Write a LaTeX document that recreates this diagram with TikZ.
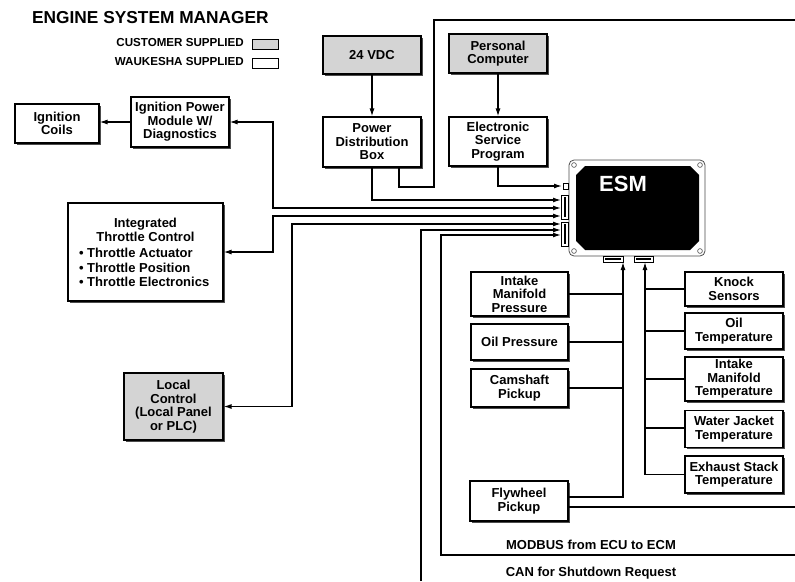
\documentclass[tikz,border=0pt]{standalone}
\usepackage{fontspec}
\setmainfont{Liberation Sans}
\usetikzlibrary{arrows.meta,shadows}
\newcommand\boxfont{\fontsize{13}{13.5}\selectfont\bfseries}
\newcommand\legfont{\fontsize{11.6}{12}\selectfont\bfseries}
\tikzset{
 box/.style={draw=black, line width=1.1pt, fill=white, align=center, inner sep=1pt, font=\boxfont,
   general shadow={fill=black!70, shadow xshift=1.6pt, shadow yshift=-1.6pt}},
 cbox/.style={box, fill=black!17},
 conn/.style={line width=1.3pt},
 arr/.style={conn, -{Latex[length=8pt,width=5pt]}},
 darr/.style={conn, {Latex[length=8pt,width=5pt]}-{Latex[length=8pt,width=5pt]}},
 plug/.style={draw=black, line width=0.6pt, fill=white},
}
\begin{document}
\begin{tikzpicture}[x=1pt,y=-1pt]
\useasboundingbox (0,0) rectangle (795,581);

% title and legend
\node[anchor=west, inner sep=0, font=\fontsize{17.3}{17}\selectfont\bfseries] (title) at (32,18) {ENGINE SYSTEM MANAGER};
\node[anchor=east, inner sep=0, font=\legfont] (cust) at (244,43) {CUSTOMER SUPPLIED};
\node[anchor=east, inner sep=0, font=\legfont] (wauk) at (244,62) {WAUKESHA SUPPLIED};
\node[draw, line width=0.8pt, fill=black!17, minimum width=26pt, minimum height=10pt, inner sep=0,
  general shadow={fill=black!50, shadow xshift=0.8pt, shadow yshift=-0.8pt}] (custbox) at (265,44) {};
\node[draw, line width=0.8pt, fill=white, minimum width=26pt, minimum height=10pt, inner sep=0,
  general shadow={fill=black!50, shadow xshift=0.8pt, shadow yshift=-0.8pt}] (waukbox) at (265,63) {};

% boxes
\node[box, minimum width=84pt, minimum height=39pt] (coils) at (57,123.5) {Ignition\\Coils};
\node[box, minimum width=98pt, minimum height=50pt] (ipm) at (180,122) {Ignition Power\\Module W/\\Diagnostics};
\node[box, minimum width=155pt, minimum height=98pt] (itc) at (145.5,252) {\begin{minipage}{133pt}\fontsize{13}{14.2}\selectfont\centering Integrated\\Throttle Control\par\vspace{2.5pt}\raggedright
\textbullet~Throttle Actuator\\\textbullet~Throttle Position\\\textbullet~Throttle Electronics\end{minipage}};
\node[cbox, minimum width=99pt, minimum height=67pt] (local) at (173.5,406.5) {Local\\Control\\(Local Panel\\or PLC)};
\node[cbox, minimum width=98pt, minimum height=38pt] (vdc) at (372,55) {24 VDC};
\node[cbox, minimum width=98pt, minimum height=39pt] (pc) at (498,53.5) {Personal\\Computer};
\node[box, minimum width=98pt, minimum height=50pt] (pdb) at (372,142) {Power\\Distribution\\Box};
\node[box, minimum width=98pt, minimum height=49pt] (esp) at (498,141.5) {Electronic\\Service\\Program};

\node[box, minimum width=97pt, minimum height=44pt] (imp) at (519.5,294) {Intake\\Manifold\\Pressure};
\node[box, minimum width=97pt, minimum height=36pt] (op) at (519.5,342) {Oil Pressure};
\node[box, minimum width=97pt, minimum height=38pt] (cam) at (519.5,388) {Camshaft\\Pickup};
\node[box, minimum width=98pt, minimum height=40pt] (fly) at (519,501) {Flywheel\\Pickup};

\node[box, minimum width=98pt, minimum height=34pt] (knock) at (734,289) {Knock\\Sensors};
\node[box, minimum width=98pt, minimum height=36pt] (ot) at (734,331) {Oil\\Temperature};
\node[box, minimum width=98pt, minimum height=44pt] (imt) at (734,379) {Intake\\Manifold\\Temperature};
\node[box, minimum width=98pt, minimum height=37pt] (wjt) at (734,429) {Water Jacket\\Temperature};
\node[box, minimum width=98pt, minimum height=37pt] (est) at (734,474.5) {Exhaust Stack\\Temperature};

% ESM unit
\node[draw=black!70, line width=0.8pt, fill=white, rounded corners=5pt, minimum width=136pt, minimum height=96pt, inner sep=0] (esm) at (637,208) {};
\fill[black] (585,166) -- (690,166) -- (699,175) -- (699,241) -- (690,250) -- (585,250) -- (576,241) -- (576,175) -- cycle;
\foreach \cx/\cy in {574/165, 700/165, 574/251, 700/251}
  \draw[black!70, line width=0.6pt, fill=white] (\cx,\cy) circle (2.4pt);
\node[text=white, inner sep=0, font=\fontsize{22}{22}\selectfont\bfseries] (esmlabel) at (623,184) {ESM};
% side plugs
\draw[plug] (563,183) rectangle (568,189);
\draw[plug] (561,195) rectangle (568,219);
\fill[black] (563.5,197) rectangle (566,217);
\draw[plug] (561,222) rectangle (568,246);
\fill[black] (563.5,224) rectangle (566,244);
% bottom plugs
\draw[plug] (603,256) rectangle (623,262);
\fill[black] (605,258) rectangle (621,260);
\draw[plug] (634,256) rectangle (653,262);
\fill[black] (636,258) rectangle (651,260);

% ports
\coordinate (pEsp) at (562,186);
\coordinate (pPdb) at (561,200);
\coordinate (pIgn) at (561,208);
\coordinate (pItc) at (561,216);
\coordinate (pLoc) at (561,224);
\coordinate (pCan) at (561,230);
\coordinate (pMod) at (561,235);
\coordinate (bL) at (623,262);
\coordinate (bR) at (645,262);
\coordinate (topR) at (795,20);
\coordinate (canEnd) at (421,581);
\coordinate (modEnd) at (795,555);
\coordinate (flyR) at (795,507);

% connectors
\draw[arr] (vdc.south) -- (pdb.north);
\draw[arr] (pc.south) -- (esp.north);
\draw[arr] (ipm.west) -- (ipm.west -| coils.east);
\draw[arr] (esp.south) |- (pEsp);
\draw[arr] (pdb.south) |- (pPdb);
\draw[conn] ([xshift=27pt]pdb.south) |- (434,187) -- (434,20) -- (topR);
\draw[darr] (ipm.east) -- (273,122) -- (273,208) -- (pIgn);
\draw[darr] (itc.east) -- (273,252) -- (273,216) -- (pItc);
\draw[darr] (local.east) -- (292,406.5) -- (292,224) -- (pLoc);
\draw[arr] (canEnd) -- (421,230) -- (pCan);
\draw[arr] (modEnd) -- (441,555) -- (441,235) -- (pMod);

\draw[arr] ([yshift=4pt]fly.east) -| (bL);
\draw[conn] ([yshift=-6pt]fly.east) -- (flyR);
\draw[conn] (imp.east) -- (imp.east -| bL);
\draw[conn] (op.east) -- (op.east -| bL);
\draw[conn] (cam.east) -- (cam.east -| bL);
\draw[arr] (est.west) -| (bR);
\draw[conn] (knock.west) -- (knock.west -| bR);
\draw[conn] (ot.west) -- (ot.west -| bR);
\draw[conn] (imt.west) -- (imt.west -| bR);
\draw[conn] ([yshift=1pt]wjt.west) -- ([yshift=1pt]wjt.west -| bR);

% bus labels
\node[inner sep=0, font=\boxfont] (modbus) at (591,545) {MODBUS from ECU to ECM};
\node[inner sep=0, font=\boxfont] (can) at (591,573) {CAN for Shutdown Request};
\end{tikzpicture}
\end{document}
